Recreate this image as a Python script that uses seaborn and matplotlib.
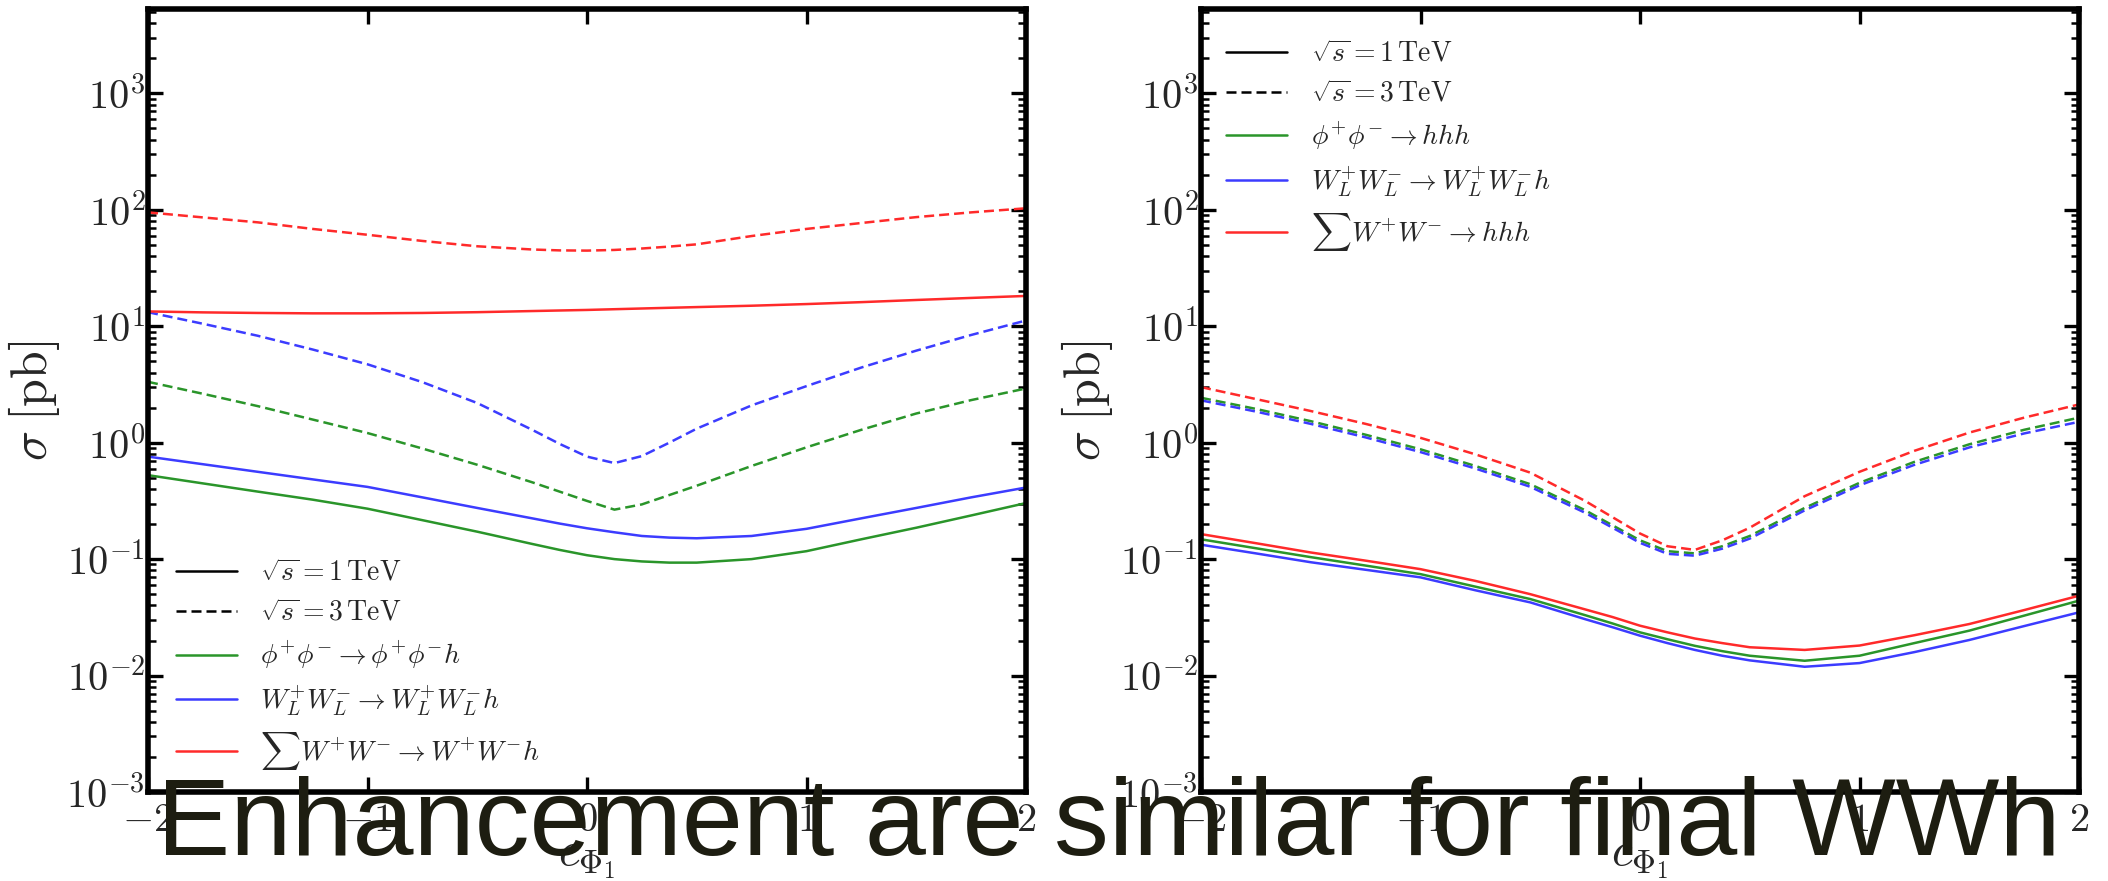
import numpy as np
import pandas as pd
import matplotlib
matplotlib.use("Agg")
import matplotlib.pyplot as plt
import seaborn as sns
from matplotlib.ticker import FuncFormatter, FixedLocator, LogLocator
from matplotlib.lines import Line2D

sns.set_style("ticks")
plt.rcParams["font.family"] = ["DejaVu Sans"]
plt.rcParams["mathtext.fontset"] = "cm"

# ---------------- data ----------------
c_phi = [-2, -1.75, -1.5, -1.25, -1, -0.75, -0.5, -0.25, -0.125, 0,
         0.125, 0.25, 0.375, 0.5, 0.75, 1, 1.25, 1.5, 1.75, 2]

# left panel: final state W+W-h
L_phiphi_1 = [0.526, 0.447, 0.380, 0.324, 0.271, 0.216, 0.172, 0.135, 0.120, 0.108,
              0.100, 0.0955, 0.0933, 0.0933, 0.100, 0.117, 0.148, 0.186, 0.237, 0.303]
L_WLWL_1 = [0.759, 0.653, 0.562, 0.484, 0.417, 0.339, 0.275, 0.224, 0.202, 0.184,
            0.170, 0.158, 0.153, 0.151, 0.158, 0.182, 0.224, 0.275, 0.339, 0.412]
L_sumWW_1 = [13.4, 13.15, 13.0, 12.9, 12.9, 13.0, 13.2, 13.5, 13.65, 13.8,
             14.0, 14.2, 14.4, 14.6, 15.0, 15.5, 16.1, 16.8, 17.5, 18.2]
L_phiphi_3 = [3.33, 2.63, 2.06, 1.58, 1.21, 0.891, 0.646, 0.457, 0.380, 0.316,
              0.266, 0.295, 0.355, 0.427, 0.631, 0.912, 1.29, 1.78, 2.32, 2.92]
L_WLWL_3 = [13.2, 10.5, 8.28, 6.31, 4.71, 3.31, 2.19, 1.29, 0.977, 0.759,
            0.668, 0.767, 1.0, 1.32, 2.09, 3.06, 4.42, 6.17, 8.41, 11.2]
L_sumWW_3 = [95.0, 86.0, 78.0, 68.5, 61.0, 54.0, 48.6, 45.6, 44.8, 44.6,
             45.2, 46.5, 48.3, 50.5, 59.5, 68.5, 77.0, 86.5, 95.0, 103.0]

# right panel: final state hhh
R_phiphi_1 = [0.148, 0.124, 0.104, 0.088, 0.0743, 0.058, 0.0454, 0.0330, 0.0280, 0.0235,
              0.0205, 0.0180, 0.0162, 0.0148, 0.0134, 0.0148, 0.0190, 0.0243, 0.0327, 0.044]
R_WLWL_1 = [0.133, 0.112, 0.094, 0.081, 0.0697, 0.054, 0.0425, 0.0305, 0.0260, 0.0220,
            0.0190, 0.0166, 0.0148, 0.0135, 0.0119, 0.0128, 0.0159, 0.0202, 0.0266, 0.0349]
R_sumWW_1 = [0.164, 0.137, 0.114, 0.097, 0.082, 0.065, 0.050, 0.037, 0.0318, 0.0268,
             0.0235, 0.0208, 0.0190, 0.0175, 0.0166, 0.0181, 0.0222, 0.0277, 0.0365, 0.0485]
R_phiphi_3 = [2.43, 1.95, 1.53, 1.17, 0.877, 0.631, 0.440, 0.263, 0.195, 0.145,
              0.117, 0.112, 0.129, 0.158, 0.275, 0.452, 0.684, 0.968, 1.29, 1.64]
R_WLWL_3 = [2.31, 1.85, 1.45, 1.11, 0.83, 0.60, 0.418, 0.250, 0.186, 0.138,
            0.111, 0.107, 0.123, 0.150, 0.262, 0.430, 0.645, 0.910, 1.20, 1.51]
R_sumWW_3 = [3.0, 2.37, 1.87, 1.45, 1.10, 0.794, 0.553, 0.316, 0.229, 0.166,
             0.129, 0.120, 0.145, 0.186, 0.347, 0.562, 0.851, 1.22, 1.64, 2.13]

x_ticks = [-2, -1, 0, 1, 2]
processes = ["phiphi", "WLWL", "sumWW"]
energies = ["1 TeV", "3 TeV"]

labels_left = [r"$\sqrt{s}=1\,\mathrm{TeV}$", r"$\sqrt{s}=3\,\mathrm{TeV}$",
               r"$\phi^{+}\phi^{-}\rightarrow\phi^{+}\phi^{-}h$",
               r"$W_L^{+}W_L^{-}\rightarrow W_L^{+}W_L^{-}h$",
               r"$\sum W^{+}W^{-}\rightarrow W^{+}W^{-}h$"]
labels_right = [r"$\sqrt{s}=1\,\mathrm{TeV}$", r"$\sqrt{s}=3\,\mathrm{TeV}$",
                r"$\phi^{+}\phi^{-}\rightarrow hhh$",
                r"$W_L^{+}W_L^{-}\rightarrow W_L^{+}W_L^{-}h$",
                r"$\sum W^{+}W^{-}\rightarrow hhh$"]
overlay_text = "Enhancement are similar for final WWh"

# ---------------- styling ----------------
palette = {"phiphi": "#2a952a", "WLWL": "#3c3cff", "sumWW": "#ff2a2a"}
dash_map = {"1 TeV": "", "3 TeV": (4.0, 2.0)}
LW = 1.8


def make_df(series):
    rows = []
    for (proc, en), vals in series.items():
        for xv, yv in zip(c_phi, vals):
            rows.append({"c": xv, "sigma": yv, "process": proc, "energy": en})
    return pd.DataFrame(rows)


df_left = make_df({("phiphi", "1 TeV"): L_phiphi_1, ("WLWL", "1 TeV"): L_WLWL_1,
                   ("sumWW", "1 TeV"): L_sumWW_1, ("phiphi", "3 TeV"): L_phiphi_3,
                   ("WLWL", "3 TeV"): L_WLWL_3, ("sumWW", "3 TeV"): L_sumWW_3})
df_right = make_df({("phiphi", "1 TeV"): R_phiphi_1, ("WLWL", "1 TeV"): R_WLWL_1,
                    ("sumWW", "1 TeV"): R_sumWW_1, ("phiphi", "3 TeV"): R_phiphi_3,
                    ("WLWL", "3 TeV"): R_WLWL_3, ("sumWW", "3 TeV"): R_sumWW_3})

W, H = 2108, 881
fig = plt.figure(figsize=(W / 100, H / 100), dpi=100)
axL = fig.add_axes([148 / W, (H - 792) / H, 878 / W, 783 / H])
axR = fig.add_axes([1201 / W, (H - 792) / H, 878 / W, 783 / H])

for ax, df, labels, loc, anchor in [(axL, df_left, labels_left, "lower left", (0.003, -0.007)),
                                    (axR, df_right, labels_right, "upper left", (0.0, 0.993))]:
    sns.lineplot(data=df, x="c", y="sigma", hue="process", style="energy",
                 hue_order=processes, style_order=energies, palette=palette,
                 dashes=dash_map, estimator=None, sort=False, linewidth=LW,
                 legend=False, ax=ax)
    ax.set_yscale("log")
    ax.set_xlim(-2, 2)
    ax.set_ylim(1e-3, 5.3e3)
    ax.xaxis.set_major_locator(FixedLocator(x_ticks))
    ax.xaxis.set_major_formatter(FuncFormatter(lambda v, p: rf"${int(round(v))}$"))
    ax.yaxis.set_major_locator(LogLocator(base=10, numticks=20))
    ax.yaxis.set_minor_locator(LogLocator(base=10, subs=np.arange(2, 10), numticks=20))
    ax.yaxis.set_major_formatter(
        FuncFormatter(lambda v, p: rf"$10^{{{int(round(np.log10(v)))}}}$"))
    ax.tick_params(axis="both", which="major", direction="in", top=True, right=True,
                   length=10.5, width=2.4, labelsize=29, color="black")
    ax.tick_params(axis="y", which="minor", direction="in", left=True, right=True,
                   length=5.5, width=1.8, color="black")
    ax.tick_params(axis="y", which="major", pad=2)
    ax.tick_params(axis="x", which="major", pad=6)
    ax.tick_params(axis="x", which="minor", bottom=False, top=False)
    for s in ax.spines.values():
        s.set_linewidth(4)
        s.set_color("black")
    ax.set_xlabel(r"$c_{\Phi_1}$", fontsize=34)
    ax.xaxis.set_label_coords(0.5, -0.056)
    ax.set_ylabel(r"$\sigma\;[\mathrm{pb}]$", fontsize=36)
    ax.yaxis.set_label_coords(-0.098, 0.5)

    handles = [Line2D([], [], color="black", lw=LW),
               Line2D([], [], color="black", lw=LW, dashes=dash_map["3 TeV"]),
               Line2D([], [], color=palette["phiphi"], lw=LW),
               Line2D([], [], color=palette["WLWL"], lw=LW),
               Line2D([], [], color=palette["sumWW"], lw=LW)]
    ax.legend(handles, labels, loc=loc, bbox_to_anchor=anchor, frameon=False,
              fontsize=20, handlelength=2.2, handletextpad=0.85, labelspacing=0.44,
              borderaxespad=0.5, borderpad=0.4)

fig.text(157 / W, (H - 855) / H, overlay_text, fontsize=79,
         family=["Liberation Sans", "DejaVu Sans"], color="#1d1d11",
         ha="left", va="baseline", zorder=10)

fig.savefig("out.png", dpi=100)
